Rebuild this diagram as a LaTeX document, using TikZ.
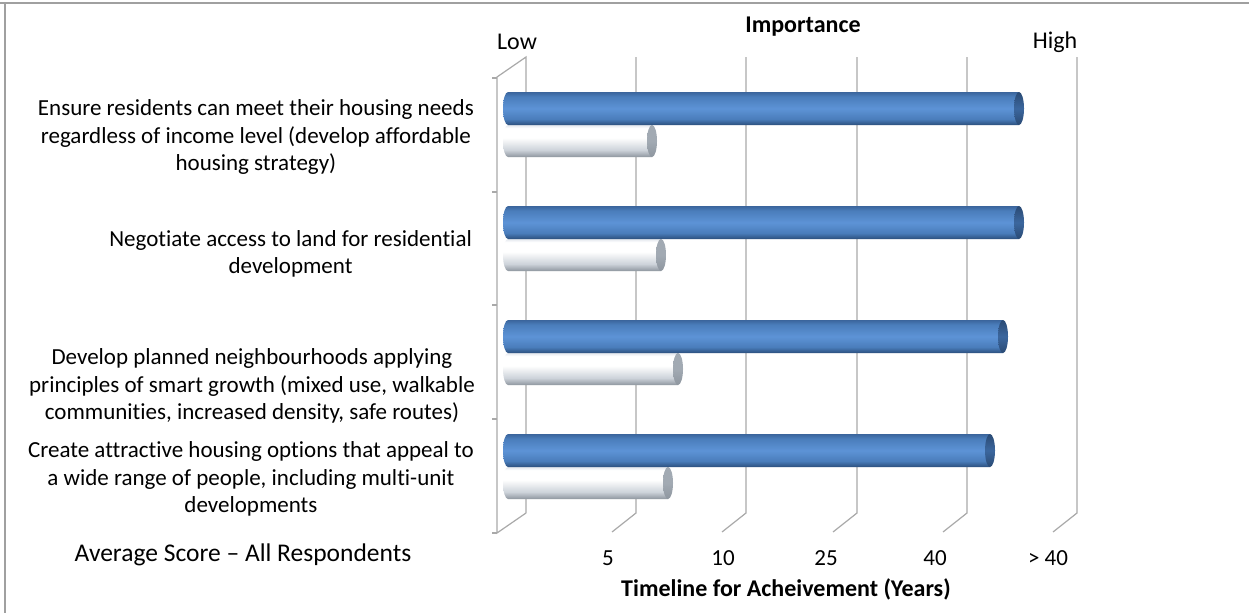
\documentclass[tikz,border=0pt]{standalone}
\usepackage{fontspec}
\setmainfont{Carlito}[Ligatures={NoCommon,NoContextual}]
\usetikzlibrary{positioning}
\definecolor{framegray}{HTML}{A0A0A0}
\definecolor{gridgray}{HTML}{A9A9A9}
\definecolor{bluedk}{HTML}{2C4F7D}
\definecolor{bluemd}{HTML}{4A7DBB}
\definecolor{bluelt}{HTML}{5D93D6}
\definecolor{bluetp}{HTML}{3B659C}
\definecolor{bluecapdk}{HTML}{2A4A74}
\definecolor{bluecaplt}{HTML}{3C679E}
\definecolor{whitedk}{HTML}{8E969F}
\definecolor{whitemd}{HTML}{CDD3DA}
\definecolor{whitelt}{HTML}{FFFFFF}
\definecolor{whitetp}{HTML}{E4E8EE}
\definecolor{whitecap}{HTML}{A2AAB3}
\pgfdeclareverticalshading{bluecyl}{100bp}{color(0bp)=(bluedk); color(25bp)=(bluedk); color(34bp)=(bluemd); color(50bp)=(bluelt); color(68bp)=(bluemd); color(75bp)=(bluetp); color(100bp)=(bluetp)}
\pgfdeclareverticalshading{bluecapsh}{100bp}{color(0bp)=(bluecapdk); color(25bp)=(bluecapdk); color(50bp)=(bluecaplt); color(75bp)=(bluecapdk); color(100bp)=(bluecapdk)}
\pgfdeclareverticalshading{whitecyl}{100bp}{color(0bp)=(whitedk); color(25bp)=(whitedk); color(36bp)=(whitemd); color(55bp)=(whitelt); color(70bp)=(whitelt); color(75bp)=(whitetp); color(100bp)=(whitetp)}
\pgfdeclareverticalshading{whitecapsh}{100bp}{color(0bp)=(whitedk); color(25bp)=(whitedk); color(50bp)=(whitecap); color(75bp)=(whitecap); color(100bp)=(whitecap)}
% #1 top, #2 right end, #3 height, #4 body shading, #5 cap shading
\newcommand{\Cyl}[5]{%
  \shade[shading=#4] (508,#1) -- (#2-5,#1) -- (#2-5,#1+#3) -- (508,#1+#3)
    arc[start angle=90, end angle=270, x radius=5, y radius=#3/2] -- cycle;
  \shade[shading=#5] (#2-5,#1+#3/2) ellipse [x radius=5, y radius=#3/2];
}
\tikzset{
    gridline/.style={draw=gridgray, line width=1.2pt},
    catlabel/.style={anchor=east, align=center, inner sep=0pt, font=\fontsize{23}{27.5}\selectfont},
    ticklabel/.style={inner sep=0pt, font=\fontsize{23}{27}\selectfont},
    heading/.style={inner sep=0pt, font=\fontsize{24}{28}\selectfont\bfseries},
}
\begin{document}
\begin{tikzpicture}[x=1pt, y=-1pt]
    \useasboundingbox (0,0) rectangle (1249,613);
    \fill[white] (0,0) rectangle (1249,613);
    \draw[framegray, line width=2pt] (0,3) -- (1249,3);
    \draw[framegray, line width=2pt] (5,3) -- (5,613);

    % back wall and floor
    \draw[gridline] (526,513) -- (526,57) -- (497,77) -- (497,533) -- (526,513);
    \draw[gridline] (636,57) -- (636,513) -- (612,532);
    \draw[gridline] (746,57) -- (746,513) -- (722,532);
    \draw[gridline] (857,57) -- (857,513) -- (833,532);
    \draw[gridline] (967,57) -- (967,513) -- (943,532);
    \draw[gridline] (1077,57) -- (1077,513) -- (1053,532);
    \draw[gridline] (492,78) -- (497,78);
    \draw[gridline] (492,192) -- (497,192);
    \draw[gridline] (492,305) -- (497,305);
    \draw[gridline] (492,419) -- (497,419);
    \draw[gridline] (492,533) -- (497,533);

    % bars
    \Cyl{125}{657}{32}{whitecyl}{whitecapsh}
    \Cyl{92}{1024}{33}{bluecyl}{bluecapsh}
    \Cyl{239}{666}{32}{whitecyl}{whitecapsh}
    \Cyl{206}{1024}{33}{bluecyl}{bluecapsh}
    \Cyl{353}{683}{32}{whitecyl}{whitecapsh}
    \Cyl{320}{1008}{33}{bluecyl}{bluecapsh}
    \Cyl{467}{673}{32}{whitecyl}{whitecapsh}
    \Cyl{434}{995}{33}{bluecyl}{bluecapsh}

    % labels
    \node[catlabel] (c1) at (474,137) {Ensure residents can meet their housing needs\\regardless of income level (develop affordable\\housing strategy)};
    \node[catlabel] (c2) at (472,254) {Negotiate access to land for residential\\development};
    \node[catlabel] (c3) at (475,386) {Develop planned neighbourhoods applying\\principles of smart growth (mixed use, walkable\\communities, increased density, safe routes)};
    \node[catlabel] (c4) at (474,479) {Create attractive housing options that appeal to\\a wide range of people, including multi-unit\\developments};
    \node[ticklabel, font=\fontsize{25.5}{29}\selectfont] (avg) at (243,555) {Average Score -- All Respondents};

    \node[heading] (imp) at (803,27) {Importance};
    \node[ticklabel, font=\fontsize{24}{28}\selectfont] (low) at (517,42) {Low};
    \node[ticklabel, font=\fontsize{24}{28}\selectfont] (high) at (1055,42) {High};

    \node[ticklabel] (t5) at (608,558) {5};
    \node[ticklabel] (t10) at (723,558) {10};
    \node[ticklabel] (t25) at (826,558) {25};
    \node[ticklabel] (t40) at (935,558) {40};
    \node[ticklabel] (tmax) at (1048,558) {> 40};
    \node[heading] (time) at (786,589) {Timeline for Acheivement (Years)};
\end{tikzpicture}
\end{document}
